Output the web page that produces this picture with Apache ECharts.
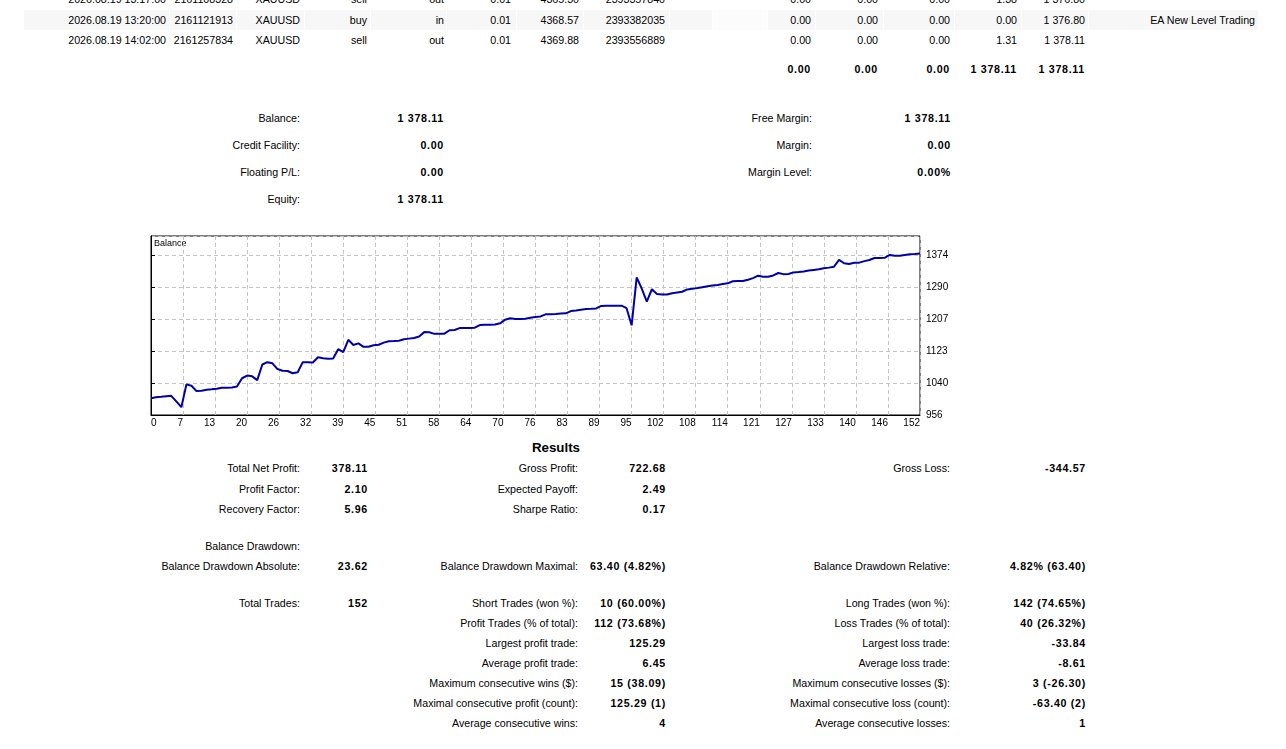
<!DOCTYPE html>
<html>
<head>
<meta charset="utf-8">
<title>Report</title>
<script src="https://cdn.jsdelivr.net/npm/echarts@6/dist/echarts.min.js"></script>
<style>
  html, body { margin: 0; padding: 0; background: #fff; }
  #page { position: relative; width: 1286px; height: 749px; overflow: hidden;
          font-family: Tahoma, "Liberation Sans", Arial, sans-serif; font-size: 10.67px; color: #000; }
  .t { position: absolute; white-space: nowrap; line-height: 13px; text-align: right; }
  .b { font-weight: bold; letter-spacing: 0.7px; }
  .cell { position: absolute; background: #f7f7f7; }
  #chart { position: absolute; left: 140px; top: 226px; width: 830px; height: 208px; }
  #head { position: absolute; left: 456px; width: 200px; top: 440px; text-align: center;
          font-weight: bold; font-size: 13.3px; line-height: 15px; }
</style>
</head>
<body>
<div id="page">
  <div id="chart"></div>
  <div id="head">Results</div>
</div>
<script>
// balance after each trade
var balance = [
  1000.00, 1002.50, 1003.50, 1005.00, 1006.00, 991.50, 976.38, 1036.00, 1032.50, 1018.50,
  1019.50, 1022.00, 1023.00, 1024.50, 1027.00, 1027.50, 1028.00, 1030.50, 1052.00, 1059.00,
  1057.00, 1047.00, 1088.00, 1094.00, 1091.00, 1076.00, 1071.50, 1071.00, 1065.00, 1067.50,
  1094.00, 1093.50, 1093.00, 1107.00, 1104.00, 1103.00, 1103.50, 1128.00, 1120.00, 1152.50,
  1139.00, 1143.00, 1134.00, 1134.50, 1138.00, 1139.50, 1145.00, 1148.50, 1149.00, 1150.00,
  1154.00, 1155.50, 1157.00, 1161.00, 1172.50, 1172.00, 1168.00, 1168.00, 1168.50, 1177.50,
  1178.00, 1183.00, 1183.00, 1183.50, 1184.00, 1191.00, 1191.50, 1192.00, 1192.50, 1195.50,
  1205.00, 1208.50, 1207.00, 1207.00, 1207.50, 1210.00, 1212.00, 1213.50, 1219.00, 1219.50,
  1220.00, 1221.00, 1221.50, 1227.50, 1229.00, 1231.00, 1233.00, 1233.50, 1234.50, 1241.00,
  1241.50, 1241.50, 1241.50, 1241.50, 1235.00, 1190.40, 1315.69, 1286.13, 1252.29, 1284.50,
  1272.00, 1271.00, 1271.00, 1274.00, 1276.00, 1278.00, 1284.00, 1285.50, 1287.50, 1290.00,
  1292.50, 1294.00, 1295.50, 1298.00, 1300.00, 1305.50, 1306.00, 1306.00, 1309.50, 1313.50,
  1320.00, 1317.00, 1317.00, 1320.50, 1327.00, 1324.00, 1324.50, 1328.50, 1329.50, 1331.00,
  1333.50, 1335.00, 1336.50, 1339.50, 1341.00, 1343.50, 1361.00, 1352.50, 1350.50, 1353.50,
  1354.00, 1358.00, 1361.00, 1366.00, 1366.00, 1366.50, 1374.00, 1372.00, 1372.00, 1374.00,
  1376.00, 1376.80, 1378.11
];
var xLabels = ['0', '7', '13', '20', '26', '32', '39', '45', '51', '58', '64', '70', '76',
               '83', '89', '95', '102', '108', '114', '121', '127', '133', '140', '146', '152'];
var yMin = 956, yStep = 83.6, yMax = 1423.6;

// deals table (last rows)
var dealRows = [
  ['2026.08.19 13:17:00', '2161108328', 'XAUUSD', 'sell', 'out', '0.01', '4365.30', '2393357840', '0.00', '0.00', '0.00', '1.38', '1 376.80', ''],
  ['2026.08.19 13:20:00', '2161121913', 'XAUUSD', 'buy', 'in', '0.01', '4368.57', '2393382035', '0.00', '0.00', '0.00', '0.00', '1 376.80', 'EA New Level Trading'],
  ['2026.08.19 14:02:00', '2161257834', 'XAUUSD', 'sell', 'out', '0.01', '4369.88', '2393556889', '0.00', '0.00', '0.00', '1.31', '1 378.11', '']
];
var dealTotals = ['0.00', '0.00', '0.00', '1 378.11', '1 378.11'];

var summaryLeft = [['Balance:', '1 378.11'], ['Credit Facility:', '0.00'], ['Floating P/L:', '0.00'], ['Equity:', '1 378.11']];
var summaryRight = [['Free Margin:', '1 378.11'], ['Margin:', '0.00'], ['Margin Level:', '0.00%']];

// results: [y, col1 label, col1 value, col2 label, col2 value, col3 label, col3 value]
var results = [
  [468, 'Total Net Profit:', '378.11', 'Gross Profit:', '722.68', 'Gross Loss:', '-344.57'],
  [489, 'Profit Factor:', '2.10', 'Expected Payoff:', '2.49', '', ''],
  [509, 'Recovery Factor:', '5.96', 'Sharpe Ratio:', '0.17', '', ''],
  [546, 'Balance Drawdown:', '', '', '', '', ''],
  [566, 'Balance Drawdown Absolute:', '23.62', 'Balance Drawdown Maximal:', '63.40 (4.82%)', 'Balance Drawdown Relative:', '4.82% (63.40)'],
  [603, 'Total Trades:', '152', 'Short Trades (won %):', '10 (60.00%)', 'Long Trades (won %):', '142 (74.65%)'],
  [623, '', '', 'Profit Trades (% of total):', '112 (73.68%)', 'Loss Trades (% of total):', '40 (26.32%)'],
  [643, '', '', 'Largest profit trade:', '125.29', 'Largest loss trade:', '-33.84'],
  [663, '', '', 'Average profit trade:', '6.45', 'Average loss trade:', '-8.61'],
  [683, '', '', 'Maximum consecutive wins ($):', '15 (38.09)', 'Maximum consecutive losses ($):', '3 (-26.30)'],
  [703, '', '', 'Maximal consecutive profit (count):', '125.29 (1)', 'Maximal consecutive loss (count):', '-63.40 (2)'],
  [723, '', '', 'Average consecutive wins:', '4', 'Average consecutive losses:', '1']
];

var page = document.getElementById('page');

function put(text, right, y, bold) {
  if (!text) return;
  var d = document.createElement('div');
  d.className = bold ? 't b' : 't';
  d.style.right = (1286 - right) + 'px';
  d.style.top = (y - 6.5) + 'px';
  d.textContent = text;
  page.appendChild(d);
}

// shaded row behind the second deal
var cellEdges = [23, 169, 236, 304, 370, 446, 516, 583, 669, 712, 767, 815, 883, 954, 1021, 1088, 1258];
for (var c = 0; c < cellEdges.length - 1; c++) {
  var s = document.createElement('div');
  s.className = 'cell';
  s.style.left = (cellEdges[c] + 1) + 'px';
  s.style.width = (cellEdges[c + 1] - cellEdges[c] - 1) + 'px';
  s.style.top = '10px';
  s.style.height = '20px';
  if (cellEdges[c] == 712) s.style.background = '#fcfcfc';
  page.appendChild(s);
}

var dealRight = [166, 233, 300, 367, 444, 511, 579, 665, 811, 878, 950, 1017, 1085, 1255];
var dealY = [-1, 20, 40];
dealRows.forEach(function (row, r) {
  row.forEach(function (txt, i) { put(txt, dealRight[i], dealY[r], false); });
});
dealTotals.forEach(function (txt, i) { put(txt, dealRight[8 + i], 69, true); });

summaryLeft.forEach(function (row, i) {
  put(row[0], 300, 118 + i * 27, false);
  put(row[1], 444, 118 + i * 27, true);
});
summaryRight.forEach(function (row, i) {
  put(row[0], 812, 118 + i * 27, false);
  put(row[1], 951, 118 + i * 27, true);
});

results.forEach(function (row) {
  put(row[1], 300, row[0], false);
  put(row[2], 368, row[0], true);
  put(row[3], 578, row[0], false);
  put(row[4], 666, row[0], true);
  put(row[5], 950, row[0], false);
  put(row[6], 1086, row[0], true);
});

// balance chart
var chart = echarts.init(document.getElementById('chart'));
var xStep = (xLabels.length > 1) ? (balance.length - 1) / (xLabels.length - 1) : 1;
var fontFam = 'Tahoma, "Liberation Sans", Arial, sans-serif';

var option = {
  animation: false,
  graphic: [{
    type: 'text', left: 14, top: 13,
    style: { text: 'Balance', fontSize: 9, fontFamily: fontFam, fill: '#000' }
  }],
  grid: {
    left: 11, top: 10, width: 769, height: 179,
    show: true, borderColor: '#000', borderWidth: 1, backgroundColor: '#fff'
  },
  xAxis: {
    type: 'value',
    min: 0,
    max: balance.length - 1,
    interval: xStep,
    axisLine: { show: true, lineStyle: { color: '#000', width: 1 } },
    axisTick: { show: false },
    axisLabel: {
      margin: 3, fontSize: 10, fontFamily: fontFam, color: '#000',
      align: 'right', alignMinLabel: 'left', alignMaxLabel: 'right',
      showMinLabel: true, showMaxLabel: true, hideOverlap: false,
      formatter: function (v) { return xLabels[Math.round(v / xStep)]; }
    },
    splitLine: { show: true, lineStyle: { color: '#c4c4c4', type: [4, 3], width: 1 } }
  },
  yAxis: {
    type: 'value',
    position: 'right',
    min: yMin,
    max: yMax,
    interval: yStep,
    axisLine: { show: true, lineStyle: { color: '#000', width: 1 } },
    axisTick: { show: true, length: 4, lineStyle: { color: '#000' } },
    axisLabel: {
      margin: 6, fontSize: 10, fontFamily: fontFam, color: '#000',
      showMaxLabel: false, hideOverlap: false,
      formatter: function (v) { return v > yMax - 1 ? '' : String(Math.round(v)); }
    },
    splitLine: { show: true, lineStyle: { color: '#c4c4c4', type: [4, 3], width: 1 } }
  },
  series: [{
    name: 'Balance',
    type: 'line',
    data: balance.map(function (v, i) { return [i, v]; }),
    symbol: 'none',
    lineStyle: { color: '#0000aa', width: 2 },
    itemStyle: { color: '#0000aa' }
  }]
};
chart.setOption(option);
</script>
</body>
</html>
